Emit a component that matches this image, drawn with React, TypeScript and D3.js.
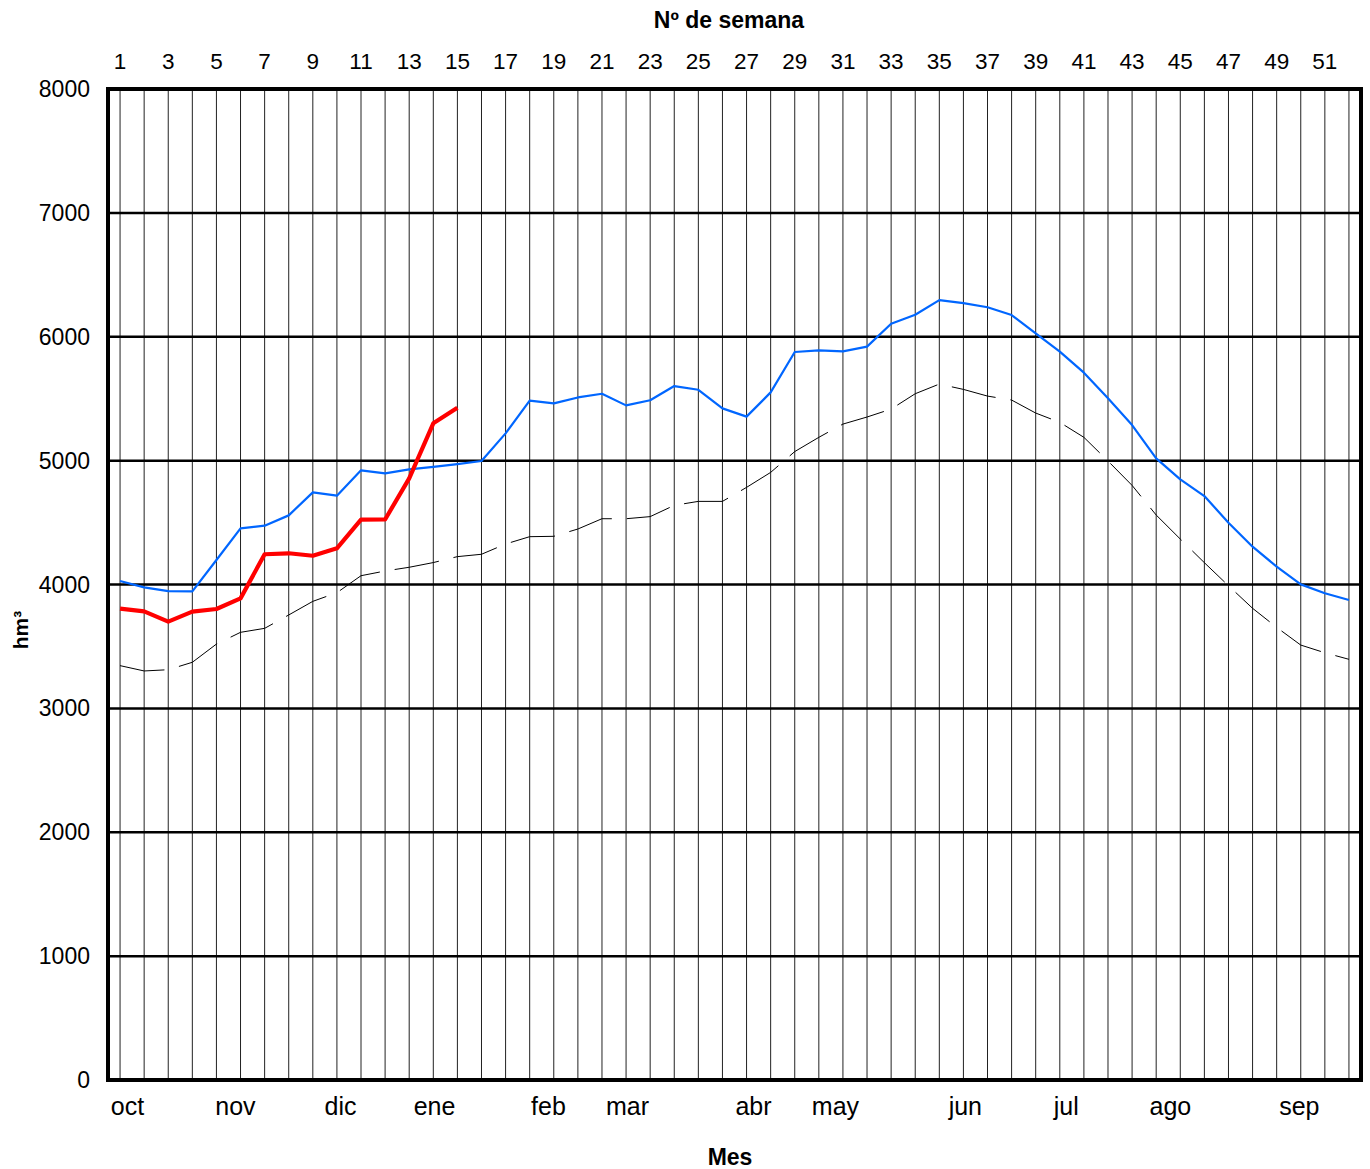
import React from "react";
import * as d3 from "d3";

const weeks: number[] = d3.range(1, 53);
const weekTickLabels: number[] = d3.range(1, 52, 2);

const currentYear: number[] = [
  3805, 3783, 3700, 3781, 3802, 3888, 4244, 4252, 4232, 4292, 4523, 4525, 4857, 5301, 5427,
];

const blueSeries: number[] = [
  4028, 3977, 3947, 3945, 4198, 4453, 4475, 4558, 4744, 4717, 4922, 4897, 4930, 4950, 4972,
  4997, 5220, 5484, 5462, 5510, 5540, 5446, 5487, 5602, 5572, 5422, 5355, 5551, 5877, 5890,
  5882, 5920, 6105, 6178, 6296, 6272, 6238, 6175, 6028, 5880, 5710, 5503, 5287, 5018, 4849,
  4714, 4499, 4305, 4144, 4001, 3929, 3875,
];

const dashedSeries: number[] = [
  3345, 3302, 3312, 3372, 3519, 3614, 3646, 3754, 3864, 3934, 4071, 4109, 4139, 4177, 4225,
  4244, 4327, 4386, 4389, 4448, 4531, 4531, 4548, 4639, 4671, 4671, 4784, 4905, 5073, 5188,
  5295, 5352, 5416, 5540, 5618, 5575, 5521, 5489, 5384, 5309, 5188, 4997, 4800, 4561, 4367,
  4176, 3990, 3808, 3654, 3511, 3449, 3396,
];

const yTicks: number[] = [0, 1000, 2000, 3000, 4000, 5000, 6000, 7000, 8000];

const monthLabels: string[] = ["oct", "nov", "dic", "ene", "feb", "mar", "abr", "may", "jun", "jul", "ago", "sep"];
const monthPos: number[] = [1.31, 5.79, 10.15, 14.05, 18.78, 22.06, 27.29, 30.69, 36.08, 40.27, 44.59, 49.94];

const FONT = "'Liberation Sans', Arial, Helvetica, sans-serif";

export default function App() {
  const W = 1370;
  const H = 1169;
  const left = 108, right = 1361, top = 89, bottom = 1080;
  const x = d3.scaleLinear().domain([0.5, 52.5]).range([left, right]);
  const y = d3.scaleLinear().domain([0, 8000]).range([bottom, top]);

  const line = d3
    .line<number>()
    .x((_, i) => x(weeks[i]))
    .y((d) => y(d));

  return (
    <svg
      width={W}
      height={H}
      style={{ position: "absolute", left: 0, top: 0, background: "#fff" }}
      fontFamily={FONT}
    >
      <rect x={0} y={0} width={W} height={H} fill="#fff" />
      {weeks.map((w) => (
        <line key={"v" + w} x1={x(w)} x2={x(w)} y1={top} y2={bottom} stroke="#222" strokeWidth={1} />
      ))}
      {yTicks.map((t) => (
        <line key={"h" + t} x1={left} x2={right} y1={y(t)} y2={y(t)} stroke="#000" strokeWidth={2.5} />
      ))}
      <path d={line(dashedSeries) || ""} fill="none" stroke="#000" strokeWidth={1} strokeDasharray="45,15" />
      <path d={line(blueSeries) || ""} fill="none" stroke="#0066FF" strokeWidth={2.2} strokeLinejoin="round" />
      <path d={line(currentYear) || ""} fill="none" stroke="#FF0000" strokeWidth={4.2} strokeLinejoin="round" />
      <rect x={left} y={top} width={right - left} height={bottom - top} fill="none" stroke="#000" strokeWidth={4} />
      {yTicks.map((t) => (
        <text key={"yt" + t} x={90} y={y(t) + 8} textAnchor="end" fontSize={23}>
          {t}
        </text>
      ))}
      {weekTickLabels.map((w) => (
        <text key={"wt" + w} x={x(w)} y={69} textAnchor="middle" fontSize={22.5}>
          {w}
        </text>
      ))}
      <text x={729} y={28} textAnchor="middle" fontSize={23} fontWeight="bold">
        Nº de semana
      </text>
      {monthLabels.map((m, i) => (
        <text key={m} x={x(monthPos[i])} y={1115} textAnchor="middle" fontSize={25}>
          {m}
        </text>
      ))}
      <text x={730} y={1165} textAnchor="middle" fontSize={23} fontWeight="bold">
        Mes
      </text>
      <text
        transform={`translate(28,630) rotate(-90)`}
        textAnchor="middle"
        fontSize={21}
        fontWeight="bold"
      >
        hm³
      </text>
    </svg>
  );
}
